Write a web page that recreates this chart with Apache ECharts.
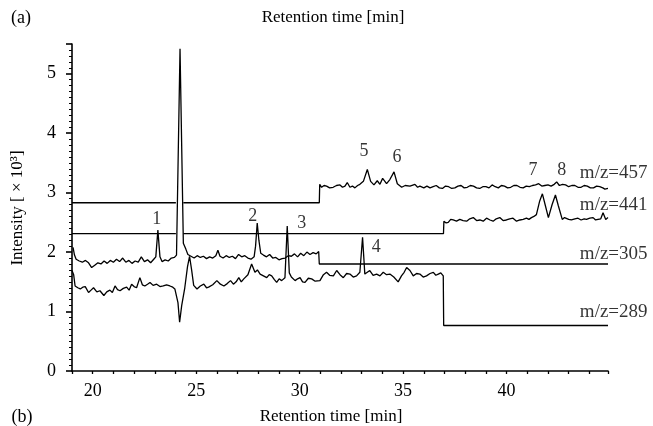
<!DOCTYPE html>
<html>
<head>
<meta charset="utf-8">
<script src="https://cdn.jsdelivr.net/npm/echarts@6/dist/echarts.min.js"></script>
<style>
html, body { margin: 0; padding: 0; background: #fff; }
#chart { width: 653px; height: 426px; }
</style>
</head>
<body>
<div id="chart"></div>
<script>
// retention time [min], intensity [x10^3]
const mz457 = [
  [19, 2.83], [24.02, 2.83], [24.2, '-'], [24.38, 2.83], [30.95, 2.83],
  [30.97, 3.14], [31.06, 3.09], [31.18, 3.12], [31.3, 3.11], [31.45, 3.08], [31.62, 3.09],
  [31.78, 3.12], [31.95, 3.13], [32.07, 3.09], [32.19, 3.11], [32.3, 3.17], [32.43, 3.09],
  [32.55, 3.11], [32.67, 3.08], [32.8, 3.12], [32.91, 3.14], [33.08, 3.19], [33.27, 3.39],
  [33.43, 3.19], [33.59, 3.13], [33.75, 3.20], [33.88, 3.14], [34.01, 3.24], [34.2, 3.15],
  [34.36, 3.22], [34.56, 3.35], [34.72, 3.15], [34.93, 3.09], [35.1, 3.12], [35.33, 3.11],
  [35.57, 3.14], [35.7, 3.09], [35.81, 3.11], [36.0, 3.08], [36.15, 3.11], [36.3, 3.08],
  [36.45, 3.10], [36.6, 3.12], [36.75, 3.08], [36.9, 3.07], [37.05, 3.11], [37.2, 3.10],
  [37.35, 3.07], [37.5, 3.08], [37.65, 3.11], [37.8, 3.12], [37.95, 3.08], [38.1, 3.09],
  [38.25, 3.12], [38.4, 3.11], [38.55, 3.08], [38.7, 3.07], [38.85, 3.10], [39.0, 3.10],
  [39.15, 3.08], [39.3, 3.13], [39.45, 3.10], [39.6, 3.08], [39.75, 3.12], [39.9, 3.11],
  [40.05, 3.08], [40.2, 3.09], [40.35, 3.12], [40.5, 3.12], [40.65, 3.09], [40.8, 3.08],
  [40.95, 3.11], [41.1, 3.10], [41.25, 3.12], [41.4, 3.13], [41.55, 3.15], [41.7, 3.11],
  [41.85, 3.12], [42.0, 3.13], [42.15, 3.11], [42.3, 3.14], [42.42, 3.18], [42.55, 3.12],
  [42.7, 3.14], [42.85, 3.13], [43.0, 3.10], [43.15, 3.12], [43.3, 3.12], [43.45, 3.09],
  [43.6, 3.09], [43.75, 3.12], [43.9, 3.11], [44.05, 3.08], [44.2, 3.08], [44.35, 3.11],
  [44.5, 3.10], [44.65, 3.08], [44.75, 3.06], [44.9, 3.07]
];

const mz441 = [
  [19, 2.31], [24.02, 2.31], [24.2, '-'], [24.38, 2.31], [36.95, 2.31],
  [36.97, 2.52], [37.08, 2.49], [37.18, 2.50], [37.3, 2.55], [37.42, 2.54], [37.58, 2.52],
  [37.74, 2.55], [37.9, 2.53], [38.07, 2.52], [38.22, 2.56], [38.39, 2.58], [38.55, 2.53],
  [38.71, 2.54], [38.87, 2.52], [39.03, 2.57], [39.2, 2.54], [39.35, 2.52], [39.5, 2.56],
  [39.67, 2.58], [39.83, 2.53], [39.99, 2.54], [40.15, 2.56], [40.31, 2.57], [40.48, 2.52],
  [40.64, 2.54], [40.8, 2.55], [40.96, 2.57], [41.08, 2.55], [41.2, 2.58], [41.32, 2.60],
  [41.44, 2.63], [41.6, 2.86], [41.73, 2.98], [41.86, 2.80], [42.02, 2.58], [42.2, 2.80],
  [42.36, 2.96], [42.5, 2.78], [42.69, 2.55], [42.8, 2.58], [42.89, 2.61], [43.0, 2.55],
  [43.13, 2.54], [43.3, 2.56], [43.45, 2.57], [43.6, 2.54], [43.75, 2.56], [43.86, 2.55],
  [44.02, 2.57], [44.18, 2.58], [44.3, 2.54], [44.42, 2.55], [44.55, 2.56], [44.66, 2.66],
  [44.79, 2.55], [44.9, 2.58]
];

const mz305 = [
  [19.05, 2.08], [19.12, 1.95], [19.2, 1.88], [19.35, 1.85], [19.5, 1.83], [19.65, 1.86],
  [19.8, 1.82], [19.95, 1.74], [20.1, 1.78], [20.25, 1.82], [20.4, 1.80], [20.55, 1.85],
  [20.7, 1.81], [20.85, 1.86], [21.0, 1.83], [21.15, 1.88], [21.3, 1.84], [21.45, 1.90],
  [21.6, 1.83], [21.75, 1.86], [21.9, 1.81], [22.05, 1.85], [22.2, 1.83], [22.35, 1.92],
  [22.5, 1.84], [22.65, 1.87], [22.8, 1.82], [22.95, 1.88], [23.05, 1.92], [23.15, 2.37],
  [23.25, 1.92], [23.35, 1.84], [23.5, 1.87], [23.65, 1.85], [23.8, 1.90], [23.95, 1.91],
  [24.05, 1.95], [24.22, 5.42], [24.38, 2.15], [24.5, 2.05], [24.6, 1.96], [24.75, 1.93],
  [24.9, 1.90], [25.05, 1.94], [25.2, 1.91], [25.35, 1.93], [25.5, 1.89], [25.65, 1.92],
  [25.8, 1.90], [25.95, 1.94], [26.05, 2.03], [26.15, 1.93], [26.3, 1.90], [26.45, 1.94],
  [26.6, 1.91], [26.75, 1.93], [26.9, 1.89], [27.05, 1.96], [27.2, 1.92], [27.35, 1.94],
  [27.5, 1.90], [27.65, 1.88], [27.8, 1.92], [27.87, 2.10], [27.95, 2.49], [28.03, 2.20],
  [28.12, 1.98], [28.25, 1.95], [28.4, 1.92], [28.55, 1.96], [28.7, 1.90], [28.85, 1.91],
  [29.0, 1.87], [29.15, 1.89], [29.3, 1.90], [29.45, 1.94], [29.6, 1.93], [29.75, 1.97],
  [29.9, 1.92], [30.05, 1.98], [30.2, 1.94], [30.35, 2.00], [30.5, 1.96], [30.65, 1.99],
  [30.8, 1.97], [30.92, 2.01], [30.95, 1.80], [44.9, 1.80]
];

const mz289 = [
  [19.0, 1.69], [19.08, 1.62], [19.15, 1.43], [19.28, 1.40], [19.4, 1.38], [19.52, 1.41],
  [19.64, 1.42], [19.8, 1.32], [19.92, 1.36], [20.04, 1.40], [20.2, 1.33], [20.35, 1.35],
  [20.54, 1.27], [20.68, 1.33], [20.83, 1.36], [20.95, 1.32], [21.08, 1.43], [21.2, 1.37],
  [21.32, 1.35], [21.48, 1.39], [21.64, 1.41], [21.76, 1.36], [21.88, 1.46], [22.0, 1.42],
  [22.12, 1.40], [22.28, 1.57], [22.4, 1.45], [22.52, 1.43], [22.65, 1.46], [22.77, 1.49],
  [22.92, 1.44], [23.09, 1.46], [23.25, 1.42], [23.41, 1.43], [23.57, 1.45], [23.73, 1.43],
  [23.87, 1.41], [23.97, 1.38], [24.05, 1.40], [24.12, 1.15], [24.2, 0.82], [24.3, 1.10],
  [24.45, 1.40], [24.58, 1.75], [24.68, 1.93], [24.78, 1.70], [24.88, 1.44], [25.04, 1.38],
  [25.2, 1.43], [25.37, 1.46], [25.5, 1.40], [25.6, 1.41], [25.8, 1.45], [26.0, 1.52],
  [26.17, 1.46], [26.34, 1.43], [26.5, 1.47], [26.66, 1.52], [26.8, 1.46], [26.93, 1.50],
  [27.06, 1.57], [27.18, 1.50], [27.3, 1.55], [27.5, 1.62], [27.68, 1.80], [27.84, 1.66],
  [27.96, 1.70], [28.09, 1.63], [28.25, 1.60], [28.41, 1.57], [28.53, 1.62], [28.65, 1.60],
  [28.77, 1.54], [28.89, 1.49], [29.01, 1.55], [29.13, 1.52], [29.22, 1.50], [29.29, 1.57],
  [29.4, 2.44], [29.5, 1.65], [29.6, 1.58], [29.78, 1.52], [29.9, 1.55], [30.02, 1.57],
  [30.14, 1.50], [30.26, 1.49], [30.42, 1.56], [30.58, 1.55], [30.75, 1.51], [30.98, 1.52],
  [31.15, 1.62], [31.3, 1.66], [31.45, 1.61], [31.63, 1.60], [31.79, 1.69], [31.95, 1.62],
  [32.11, 1.57], [32.27, 1.64], [32.43, 1.63], [32.59, 1.58], [32.75, 1.60], [32.91, 1.66],
  [33.04, 2.25], [33.15, 1.63], [33.27, 1.66], [33.39, 1.69], [33.55, 1.61], [33.72, 1.63],
  [33.88, 1.60], [34.04, 1.66], [34.2, 1.62], [34.36, 1.63], [34.55, 1.58], [34.76, 1.50],
  [34.92, 1.60], [35.05, 1.66], [35.17, 1.74], [35.33, 1.69], [35.49, 1.60], [35.65, 1.64],
  [35.81, 1.63], [35.97, 1.58], [36.13, 1.60], [36.3, 1.64], [36.46, 1.66], [36.58, 1.61],
  [36.7, 1.63], [36.82, 1.65], [36.94, 1.60], [36.96, 0.765], [44.9, 0.765]
];

// peak numbers and trace names, placed in data units
const peakNames = ['1', '2', '3', '4', '5', '6', '7', '8'];
const peakPos = [
  [23.10, 2.55], [27.74, 2.60], [30.10, 2.48], [33.70, 2.08],
  [33.11, 3.69], [34.70, 3.60], [41.27, 3.37], [42.67, 3.37]
];
const traceNames = ['m/z=457', 'm/z=441', 'm/z=305', 'm/z=289'];
const traceLabelPos = [[43.54, 3.33], [43.54, 2.80], [43.54, 1.97], [43.54, 0.99]];

const xTicks = [20, 25, 30, 35, 40];

const font = "'Liberation Serif', 'DejaVu Serif', serif";
const chart = echarts.init(document.getElementById('chart'));

const traceSeries = (data) => ({
  type: 'line',
  data: data,
  symbol: 'none',
  connectNulls: false,
  lineStyle: { color: '#000', width: 1.3 },
  silent: true
});

const option = {
  animation: false,
  backgroundColor: '#fff',
  grid: { left: 72, right: 45, top: 44, bottom: 55 },
  xAxis: {
    type: 'value',
    min: 19,
    max: 44.9,
    interval: 1,
    axisLine: { lineStyle: { color: '#000', width: 1.6 } },
    axisTick: { length: 3, lineStyle: { color: '#000', width: 1.3 } },
    axisLabel: {
      color: '#000',
      fontFamily: font,
      fontSize: 18,
      margin: 11,
      formatter: (v) => {
        const r = Math.round(v);
        return Math.abs(v - r) < 1e-6 && xTicks.indexOf(r) >= 0 ? String(r) : '';
      }
    },
    splitLine: { show: false }
  },
  yAxis: {
    type: 'value',
    min: 0,
    max: 5.5,
    interval: 1,
    axisLine: { show: true, lineStyle: { color: '#000', width: 1.6 } },
    axisTick: { length: 6, lineStyle: { color: '#000', width: 1.6 } },
    minorTick: { show: true, splitNumber: 10, length: 3, lineStyle: { color: '#000', width: 1 } },
    axisLabel: { color: '#000', fontFamily: font, fontSize: 18, margin: 16, showMaxLabel: false },
    splitLine: { show: false },
    minorSplitLine: { show: false }
  },
  graphic: [
    { type: 'text', x: 21, y: 18, style: { text: '(a)', fill: '#000', font: '18px ' + font, align: 'center', verticalAlign: 'middle' } },
    { type: 'text', x: 333, y: 18, style: { text: 'Retention time [min]', fill: '#000', font: '17px ' + font, align: 'center', verticalAlign: 'middle' } },
    { type: 'text', x: 22, y: 417, style: { text: '(b)', fill: '#000', font: '18px ' + font, align: 'center', verticalAlign: 'middle' } },
    { type: 'text', x: 331, y: 417, style: { text: 'Retention time [min]', fill: '#000', font: '17px ' + font, align: 'center', verticalAlign: 'middle' } },
    { type: 'text', x: 18, y: 208, rotation: Math.PI / 2, style: { text: 'Intensity [ × 10³]', fill: '#000', font: '17px ' + font, align: 'center', verticalAlign: 'middle' } }
  ],
  series: [
    traceSeries(mz457),
    traceSeries(mz441),
    traceSeries(mz289),
    traceSeries(mz305),
    {
      type: 'scatter',
      symbolSize: 0,
      silent: true,
      data: peakPos.map((p, i) => ({ value: p, name: peakNames[i] })),
      label: { show: true, position: 'inside', formatter: '{b}', color: '#000', fontFamily: font, fontSize: 18 }
    },
    {
      type: 'scatter',
      symbolSize: 0,
      silent: true,
      data: traceLabelPos.map((p, i) => ({ value: p, name: traceNames[i] })),
      label: { show: true, position: 'right', distance: 0, formatter: '{b}', color: '#000', fontFamily: font, fontSize: 19 }
    }
  ]
};

chart.setOption(option);
window.addEventListener('resize', () => chart.resize());
</script>
</body>
</html>
